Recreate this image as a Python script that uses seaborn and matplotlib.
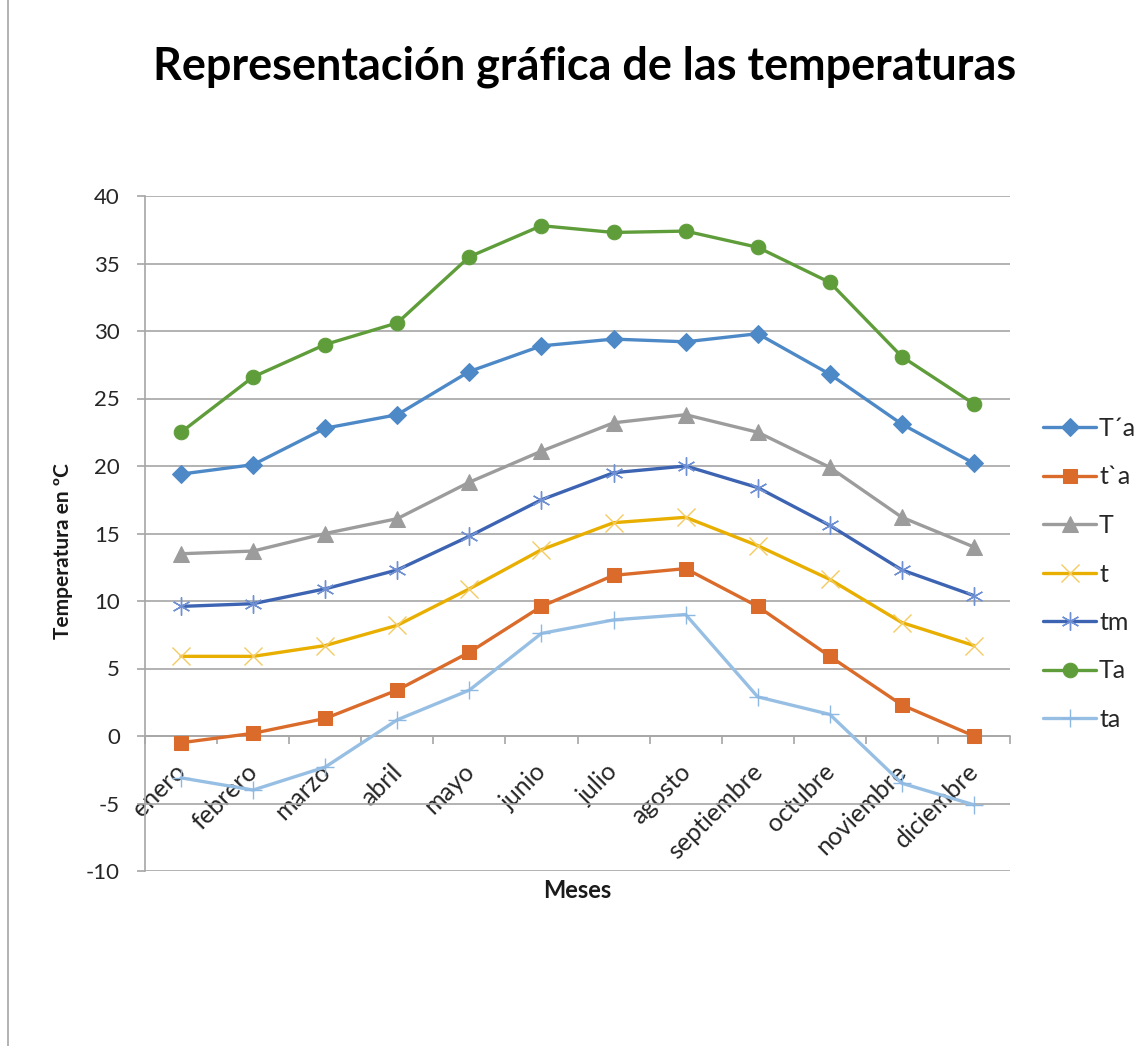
import matplotlib
matplotlib.use("Agg")
import matplotlib.pyplot as plt
import matplotlib.lines as mlines
import matplotlib.transforms as mtransforms
import seaborn as sns

# ---- data ----
meses = ["enero", "febrero", "marzo", "abril", "mayo", "junio", "julio",
         "agosto", "septiembre", "octubre", "noviembre", "diciembre"]
serie_nombres = ["T´a", "t`a", "T", "t", "tm", "Ta", "ta"]
T_prima_a = [19.4, 20.1, 22.8, 23.8, 27.0, 28.9, 29.4, 29.2, 29.8, 26.8, 23.1, 20.2]
t_prima_a = [-0.5, 0.2, 1.3, 3.4, 6.2, 9.6, 11.9, 12.4, 9.6, 5.9, 2.3, 0.0]
T_media = [13.5, 13.7, 15.0, 16.1, 18.8, 21.1, 23.2, 23.8, 22.5, 19.9, 16.2, 14.0]
t_media = [5.9, 5.9, 6.7, 8.2, 10.9, 13.8, 15.8, 16.2, 14.1, 11.6, 8.4, 6.7]
tm_media = [9.6, 9.8, 10.9, 12.3, 14.8, 17.5, 19.5, 20.0, 18.4, 15.6, 12.3, 10.4]
Ta_abs = [22.5, 26.6, 29.0, 30.6, 35.5, 37.8, 37.3, 37.4, 36.2, 33.6, 28.1, 24.6]
ta_abs = [-3.1, -4.0, -2.3, 1.2, 3.4, 7.6, 8.6, 9.0, 2.9, 1.6, -3.5, -5.1]
valores = [T_prima_a, t_prima_a, T_media, t_media, tm_media, Ta_abs, ta_abs]
y_ticks = list(range(-10, 41, 5))

# ---- styles ----
colores = ["#4E89C7", "#DA6B2A", "#9C9C9C", "#E8AF00", "#3D64B2", "#5F9D3A", "#97BFE4"]
marcador = ["D", "s", "^", "x", (6, 2, 0), "o", "+"]
color_marc = ["#4E89C7", "#DA6B2A", "#9C9C9C", "#F3CB62", "#6F90D3", "#5F9D3A", "#8DB8E2"]
tam_marc = [9.5, 9.5, 11, 13, 13, 10.5, 13]
mew = [0.75, 0.75, 0.75, 1.0, 1.0, 0.75, 1.0]

sns.set_theme(style="white")
plt.rcParams["font.family"] = ["Lato", "DejaVu Sans"]
plt.rcParams["axes.unicode_minus"] = False

fig = plt.figure(figsize=(11.47, 10.46), dpi=100)
ax = fig.add_axes([145 / 1147, 1 - 871 / 1046, 865 / 1147, 675 / 1046])

for nombre, vals, c, m, mc, ms, w in zip(serie_nombres, valores, colores, marcador,
                                          color_marc, tam_marc, mew):
    sns.lineplot(x=meses, y=vals, ax=ax, color=c, marker=m, markersize=ms,
                 markerfacecolor=mc, markeredgecolor=mc, markeredgewidth=w,
                 linewidth=2.4, label=nombre, sort=False, zorder=3)

grid_c = "#A6A6A6"
ax.set_ylim(-10, 40)
ax.set_xlim(-0.5, 11.5)
ax.set_yticks(y_ticks)
ax.yaxis.grid(True, color=grid_c, linewidth=1.2)
ax.xaxis.grid(False)
for s in ["top", "right"]:
    ax.spines[s].set_visible(False)
ax.spines["left"].set_color(grid_c)
ax.spines["left"].set_linewidth(1.2)
ax.spines["bottom"].set_color(grid_c)
ax.spines["bottom"].set_linewidth(1.2)
ax.spines["bottom"].set_position(("data", 0))

ax.tick_params(axis="y", length=6, color=grid_c, width=1.2, pad=12,
               labelsize=16, labelcolor="#262626", direction="out", left=True)
ax.set_xticks(range(len(meses)))
ax.set_xticks([i - 0.5 for i in range(len(meses) + 1)], minor=True)
ax.tick_params(axis="x", which="major", length=0, pad=23, labelsize=18,
               labelcolor="#262626", bottom=True)
ax.tick_params(axis="x", which="minor", length=6, color=grid_c, width=1.2,
               direction="out", bottom=True)
ax.set_xticklabels(meses, rotation=45, ha="right", va="center",
                   rotation_mode="anchor")
off = mtransforms.ScaledTranslation(1 / 100, 0, fig.dpi_scale_trans)
for lab in ax.get_xticklabels():
    lab.set_transform(lab.get_transform() + off)

ax.set_xlabel("Meses", fontsize=17, fontweight="bold", color="#1a1a1a", va="top")
ax.xaxis.set_label_coords(0.5, -0.012)
ax.set_ylabel("Temperatura en ºC", fontsize=15, fontweight="bold", color="#1a1a1a")
ax.yaxis.set_label_coords(-0.083, 0.474)

h, l = ax.get_legend_handles_labels()
ax.legend(h, l, loc="center left", bbox_to_anchor=(1043 / 1147, 1 - 574 / 1046),
          bbox_transform=fig.transFigure, frameon=False, fontsize=18,
          handlelength=2.12, handletextpad=0.12, labelspacing=1.02,
          borderpad=0, borderaxespad=0)

fig.text(585 / 1147, 1 - 80 / 1046, "Representación gráfica de las temperaturas",
         ha="center", va="baseline", fontsize=32.4, fontweight="bold", color="black")

fig.add_artist(mlines.Line2D([8 / 1147, 8 / 1147], [0, 1], transform=fig.transFigure,
                             color=grid_c, linewidth=1.2))

fig.savefig("out.png", dpi=100, facecolor="white")
